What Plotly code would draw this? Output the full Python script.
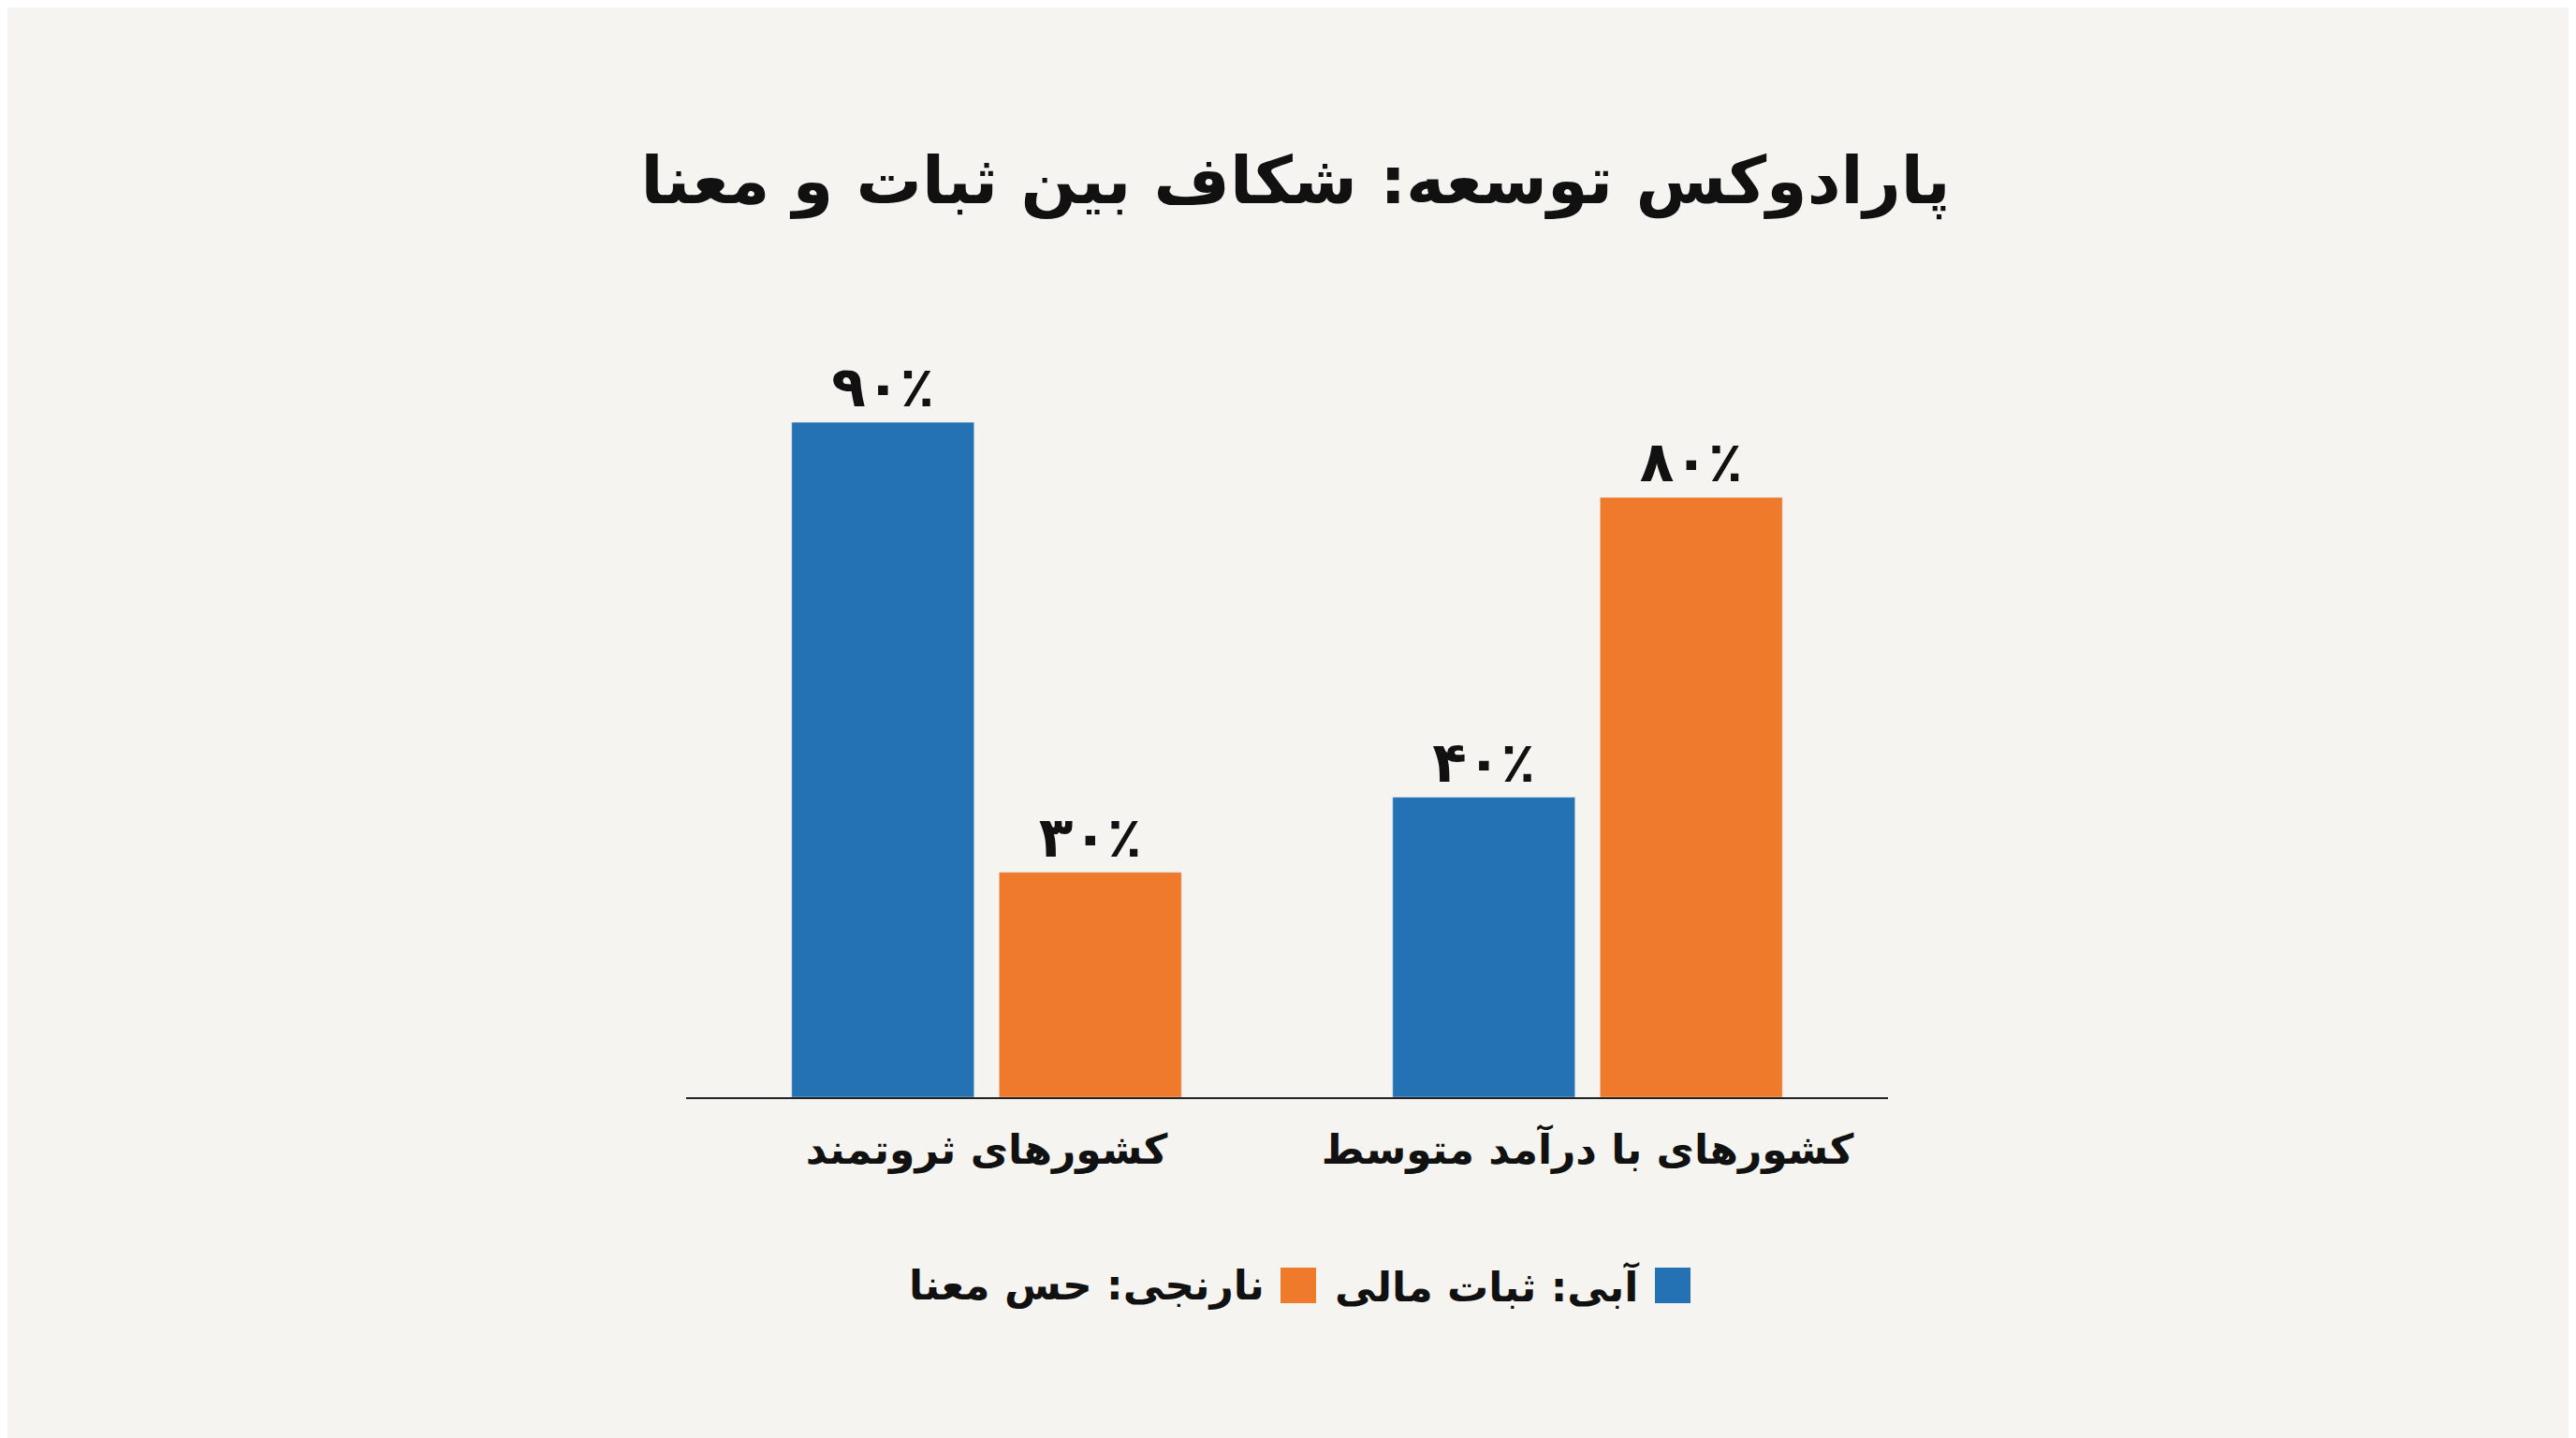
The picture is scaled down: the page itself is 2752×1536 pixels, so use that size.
import plotly.graph_objects as go

categories = ["کشورهای ثروتمند", "کشورهای با درآمد متوسط"]
series_names = ["آبی: ثبات مالی", "نارنجی: حس معنا"]
stability = [90, 40]
meaning = [30, 80]
labels_stab = ["۹۰٪", "۴۰٪"]
labels_mean = ["۳۰٪", "۸۰٪"]
title = "پارادوکس توسعه: شکاف بین ثبات و معنا"

BLUE = "#2471B3"
ORANGE = "#F07A2C"
BG = "#F5F4F0"
FONT = "DejaVu Sans"

fig = go.Figure()
fig.add_bar(x=categories, y=stability, marker_color=BLUE, text=["<b>%s</b>" % s for s in labels_stab],
            textposition="outside", name=series_names[0], showlegend=False,
            textfont=dict(size=60, color="#111", family=FONT), cliponaxis=False)
fig.add_bar(x=categories, y=meaning, marker_color=ORANGE, text=["<b>%s</b>" % s for s in labels_mean],
            textposition="outside", name=series_names[1], showlegend=False,
            textfont=dict(size=60, color="#111", family=FONT), cliponaxis=False)

fig.update_layout(
    width=2752, height=1536, paper_bgcolor=BG, plot_bgcolor=BG,
    margin=dict(l=725, r=743, t=363, b=372),
    barmode="group", bargap=0.31, bargroupgap=0.12,
    title=dict(text="<b>" + title + "</b>", x=0.5, xanchor="center", y=0.88, yanchor="middle",
               font=dict(size=70, color="#111", family=FONT)),
    xaxis=dict(showline=True, linecolor="#222", linewidth=2, ticks="",
               tickvals=categories, ticktext=["<b>%s</b>" % c for c in categories],
               tickfont=dict(size=44, color="#111", family=FONT), ticklabelstandoff=16),
    yaxis=dict(range=[0, 100], visible=False),
    font=dict(family=FONT),
)

PW = 2752 - 725 - 743
PH = 1536 - 363 - 372
BASE = 1536 - 372

def px(x):
    return (x - 725) / PW

def py(y):
    return (BASE - y) / PH

fig.add_shape(type="rect", xref="paper", yref="paper",
              x0=px(1760), x1=px(1798), y0=py(1384), y1=py(1346),
              fillcolor=BLUE, line_width=0)
fig.add_shape(type="rect", xref="paper", yref="paper",
              x0=px(1360), x1=px(1398), y0=py(1384), y1=py(1346),
              fillcolor=ORANGE, line_width=0)
fig.add_annotation(text="<b>" + series_names[0] + "</b>", xref="paper", yref="paper",
                   x=px(1745), y=py(1365), xanchor="right", yanchor="middle", showarrow=False,
                   font=dict(size=44, color="#111", family=FONT))
fig.add_annotation(text="<b>" + series_names[1] + "</b>", xref="paper", yref="paper",
                   x=px(1345), y=py(1365), xanchor="right", yanchor="middle", showarrow=False,
                   font=dict(size=44, color="#111", family=FONT))

fig.write_html("out.html")
